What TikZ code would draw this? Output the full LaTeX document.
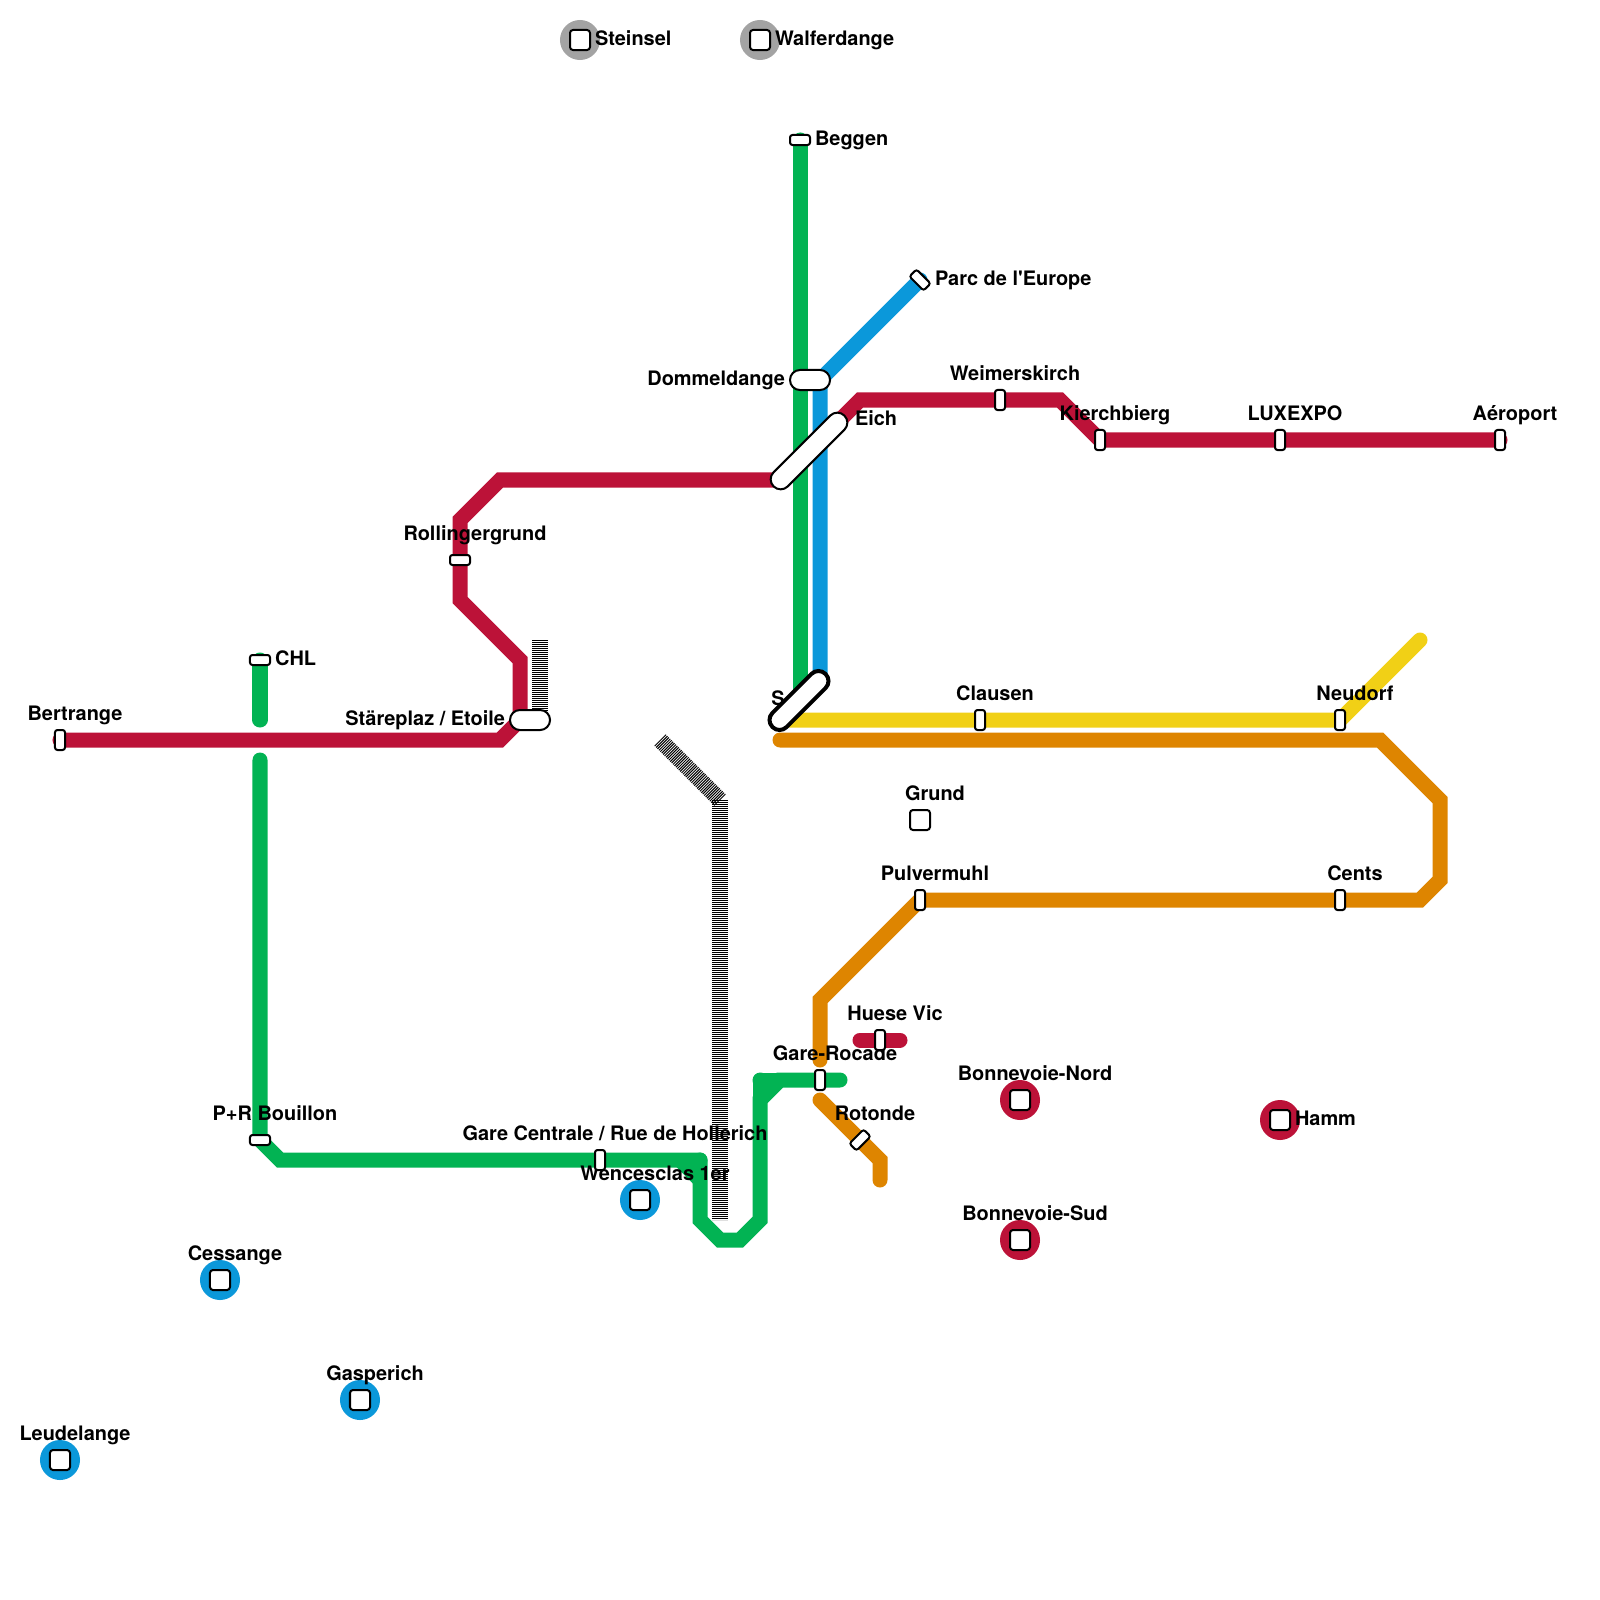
\documentclass[tikz,border=0pt]{standalone}
\usepackage{fontspec}
\setmainfont{TeX Gyre Heros}
\usetikzlibrary{positioning,calc}
\definecolor{LineRed}{HTML}{BC1238}
\definecolor{LineGreen}{HTML}{02B353}
\definecolor{LineBlue}{HTML}{0B98DA}
\definecolor{LineYellow}{HTML}{F1D016}
\definecolor{LineOrange}{HTML}{DE8500}
\definecolor{LineGrey}{HTML}{A3A3A3}
\tikzset{
	metro/.style={line width=0.15cm,line cap=round},
	hatchline/.style={line width=0.16cm,black,dash pattern=on 0.01cm off 0.01cm},
	lbl/.style={font=\fontsize{5.67}{6}\selectfont\bfseries,inner sep=0pt,outer sep=0pt},
	lblabove/.style={lbl,anchor=base,xshift=0.15cm,yshift=0.195cm},
	lblright/.style={lbl,anchor=base west,xshift=0.15cm,yshift=-0.053cm},
	lblleft/.style={lbl,anchor=base east,xshift=-0.15cm,yshift=-0.053cm},
	stopv/.style={draw=black,fill=white,line width=0.02cm,rounded corners=0.025cm,inner sep=0pt,outer sep=0pt,minimum width=0.1cm,minimum height=0.2cm},
	stoph/.style={stopv,minimum width=0.2cm,minimum height=0.1cm},
	pill/.style={draw=black,fill=white,line width=0.02cm,rounded corners=0.099cm,inner sep=0pt,outer sep=0pt,minimum height=0.2cm},
	disc/.style={circle,inner sep=0pt,outer sep=0pt,minimum size=0.4cm},
	hub/.style={draw=black,fill=white,line width=0.02cm,rounded corners=0.03cm,inner sep=0pt,outer sep=0pt,minimum size=0.2cm}
}
\begin{document}
\begin{tikzpicture}[x=0.01cm,y=-0.01cm]
	\useasboundingbox (0,0) rectangle (1600,1600);
	
	\coordinate (Beggen) at (800,140);
	\coordinate (ParcEurope) at (920,280);
	\coordinate (Dommeldange) at (800,380);
	\coordinate (Eich) at (840,420);
	\coordinate (Weimerskirch) at (1000,400);
	\coordinate (Kierchbierg) at (1100,440);
	\coordinate (Luxexpo) at (1280,440);
	\coordinate (Aeroport) at (1500,440);
	\coordinate (Rollingergrund) at (460,560);
	\coordinate (Chl) at (260,660);
	\coordinate (ChlEnd) at (260,720);
	\coordinate (Bertrange) at (60,740);
	\coordinate (Stareplaz) at (520,720);
	\coordinate (BouillonStart) at (260,760);
	\coordinate (Bouillon) at (260,1140);
	\coordinate (GareCentrale) at (600,1160);
	\coordinate (GareRocade) at (820,1080);
	\coordinate (GreenEnd) at (840,1080);
	\coordinate (GreenSpur) at (760,1080);
	\coordinate (GreenSpurEnd) at (780,1080);
	\coordinate (GreenStep) at (680,1160);
	\coordinate (GreenStepEnd) at (700,1180);
	\coordinate (GreenTurn) at (700,1160);
	\coordinate (Sud) at (800,700);
	\coordinate (SudStart) at (780,720);
	\coordinate (SudEnd) at (820,680);
	\coordinate (Clausen) at (980,720);
	\coordinate (Neudorf) at (1340,720);
	\coordinate (YellowEnd) at (1420,640);
	\coordinate (OrangeStart) at (780,740);
	\coordinate (Cents) at (1340,900);
	\coordinate (Pulvermuhl) at (920,900);
	\coordinate (OrangeGap) at (820,1060);
	\coordinate (OrangeNext) at (820,1100);
	\coordinate (Rotonde) at (860,1140);
	\coordinate (OrangeEnd) at (880,1180);
	\coordinate (HueseStart) at (860,1040);
	\coordinate (HueseVic) at (880,1040);
	\coordinate (HueseEnd) at (900,1040);
	\coordinate (HatchA) at (540,640);
	\coordinate (HatchB) at (540,720);
	\coordinate (HatchC) at (660,740);
	\coordinate (HatchBend) at (720,800);
	\coordinate (HatchD) at (720,1220);
	
	\draw[hatchline] (HatchA) -- (HatchB);
	\draw[hatchline] (HatchC) -- (HatchBend);
	\draw[hatchline] (HatchBend) -- (HatchD);
	
	\draw[metro,LineGreen] (Beggen) -- (Sud);
	\draw[metro,LineBlue] (ParcEurope) -- (820,380) -- (SudEnd);
	\draw[metro,LineGreen] (Chl) -- (ChlEnd);
	\draw[metro,LineGreen] (BouillonStart) -- (Bouillon) -- (280,1160) -- (GareCentrale) -- (GreenStep) -- (GreenTurn);
	\draw[metro,LineGreen] (GreenTurn) -- (700,1220) -- (720,1240) -- (740,1240) -- (760,1220) -- (760,1100) -- (GreenSpurEnd) -- (GareRocade) -- (GreenEnd);
	\draw[metro,LineGreen] (GreenSpur) -- (GreenSpurEnd);
	\draw[metro,LineGreen] (GreenSpur) -- (760,1100);
	\draw[metro,LineGreen,line cap=butt] (GreenStep) -- (GreenStepEnd);
	\draw[metro,LineRed] (Bertrange) -- (500,740) -- (Stareplaz) -- (520,660) -- (460,600) -- (Rollingergrund) -- (460,520) -- (500,480) -- (780,480) -- (Eich) -- (860,400) -- (Weimerskirch) -- (1060,400) -- (Kierchbierg) -- (Luxexpo) -- (Aeroport);
	\draw[metro,LineRed] (HueseStart) -- (HueseVic) -- (HueseEnd);
	\draw[metro,LineYellow] (SudStart) -- (Clausen) -- (Neudorf) -- (YellowEnd);
	\draw[metro,LineOrange] (OrangeStart) -- (1380,740) -- (1440,800) -- (1440,880) -- (1420,900) -- (Cents) -- (Pulvermuhl) -- (820,1000) -- (OrangeGap);
	\draw[metro,LineOrange] (OrangeNext) -- (Rotonde) -- (880,1160) -- (OrangeEnd);
	
	\node[disc,fill=LineGrey] (discSteinsel) at (580,40) {};
	\node[disc,fill=LineGrey] (discWalferdange) at (760,40) {};
	\node[disc,fill=LineBlue] (discWencesclas) at (640,1200) {};
	\node[disc,fill=LineBlue] (discCessange) at (220,1280) {};
	\node[disc,fill=LineBlue] (discGasperich) at (360,1400) {};
	\node[disc,fill=LineBlue] (discLeudelange) at (60,1460) {};
	\node[disc,fill=LineRed] (discNord) at (1020,1100) {};
	\node[disc,fill=LineRed] (discSud) at (1020,1240) {};
	\node[disc,fill=LineRed] (discHamm) at (1280,1120) {};
	
	\node[lblright] (lblSteinsel) at (discSteinsel) {Steinsel};
	\node[lblright] (lblWalferdange) at (discWalferdange) {Walferdange};
	\node[lblright] (lblBeggen) at (Beggen) {Beggen};
	\node[lblright] (lblParc) at (ParcEurope) {Parc de l\textquotesingle Europe};
	\node[lblleft] (lblDommeldange) at (Dommeldange) {Dommeldange};
	\node[lblright] (lblEich) at (Eich) {Eich};
	\node[lblabove] (lblWeimerskirch) at (Weimerskirch) {Weimerskirch};
	\node[lblabove] (lblKierchbierg) at (Kierchbierg) {Kierchbierg};
	\node[lblabove] (lblLuxexpo) at (Luxexpo) {LUXEXPO};
	\node[lblabove] (lblAeroport) at (Aeroport) {Aéroport};
	\node[lblabove] (lblRollingergrund) at (Rollingergrund) {Rollingergrund};
	\node[lblright] (lblChl) at (Chl) {CHL};
	\node[lblabove] (lblBertrange) at (Bertrange) {Bertrange};
	\node[lblleft] (lblStareplaz) at (Stareplaz) {Stäreplaz / Etoile};
	\node[lbl,anchor=base] (lblSud) at (778,705) {S};
	\node[lblabove] (lblClausen) at (Clausen) {Clausen};
	\node[lblabove] (lblNeudorf) at (Neudorf) {Neudorf};
	\node[lblabove] (lblGrund) at (920,820) {Grund};
	\node[lblabove] (lblPulvermuhl) at (Pulvermuhl) {Pulvermuhl};
	\node[lblabove] (lblCents) at (Cents) {Cents};
	\node[lblabove] (lblHuese) at (HueseVic) {Huese Vic};
	\node[lblabove] (lblGareRocade) at (GareRocade) {Gare-Rocade};
	\node[lblabove] (lblRotonde) at (Rotonde) {Rotonde};
	\node[lblabove] (lblBouillon) at (Bouillon) {P+R Bouillon};
	\node[lblabove] (lblGareCentrale) at (GareCentrale) {Gare Centrale / Rue de Hollerich};
	\node[lblabove] (lblWencesclas) at (discWencesclas) {Wencesclas 1er};
	\node[lblabove] (lblCessange) at (discCessange) {Cessange};
	\node[lblabove] (lblGasperich) at (discGasperich) {Gasperich};
	\node[lblabove] (lblLeudelange) at (discLeudelange) {Leudelange};
	\node[lblabove] (lblNord) at (discNord) {Bonnevoie-Nord};
	\node[lblabove] (lblBonnevoieSud) at (discSud) {Bonnevoie-Sud};
	\node[lblright] (lblHamm) at (discHamm) {Hamm};
	
	\node[stoph] (stopBeggen) at (Beggen) {};
	\node[stopv,rotate=45] (stopParc) at (ParcEurope) {};
	\node[pill,minimum width=0.4cm] (stopDommeldange) at (810,380) {};
	\node[pill,minimum width=1.0cm,rotate=45] (stopEich) at (809,451) {};
	\node[stopv] (stopWeimerskirch) at (Weimerskirch) {};
	\node[stopv] (stopKierchbierg) at (Kierchbierg) {};
	\node[stopv] (stopLuxexpo) at (Luxexpo) {};
	\node[stopv] (stopAeroport) at (Aeroport) {};
	\node[stoph] (stopRollingergrund) at (Rollingergrund) {};
	\node[stoph] (stopChl) at (Chl) {};
	\node[stopv] (stopBertrange) at (Bertrange) {};
	\node[pill,minimum width=0.4cm] (stopStareplaz) at (530,720) {};
	\node[pill,minimum width=0.75cm,line width=0.04cm,rotate=45] (stopSud) at (799,700.5) {};
	\node[stopv] (stopClausen) at (Clausen) {};
	\node[stopv] (stopNeudorf) at (Neudorf) {};
	\node[stopv] (stopPulvermuhl) at (Pulvermuhl) {};
	\node[stopv] (stopCents) at (Cents) {};
	\node[stopv] (stopHuese) at (HueseVic) {};
	\node[stopv] (stopGareRocade) at (GareRocade) {};
	\node[stopv,rotate=-45] (stopRotonde) at (Rotonde) {};
	\node[stoph] (stopBouillon) at (Bouillon) {};
	\node[stopv] (stopGareCentrale) at (GareCentrale) {};
	
	\node[hub] (hubGrund) at (920,820) {};
	\node[hub] (hubSteinsel) at (discSteinsel) {};
	\node[hub] (hubWalferdange) at (discWalferdange) {};
	\node[hub] (hubWencesclas) at (discWencesclas) {};
	\node[hub] (hubCessange) at (discCessange) {};
	\node[hub] (hubGasperich) at (discGasperich) {};
	\node[hub] (hubLeudelange) at (discLeudelange) {};
	\node[hub] (hubNord) at (discNord) {};
	\node[hub] (hubSud) at (discSud) {};
	\node[hub] (hubHamm) at (discHamm) {};
\end{tikzpicture}
\end{document}
